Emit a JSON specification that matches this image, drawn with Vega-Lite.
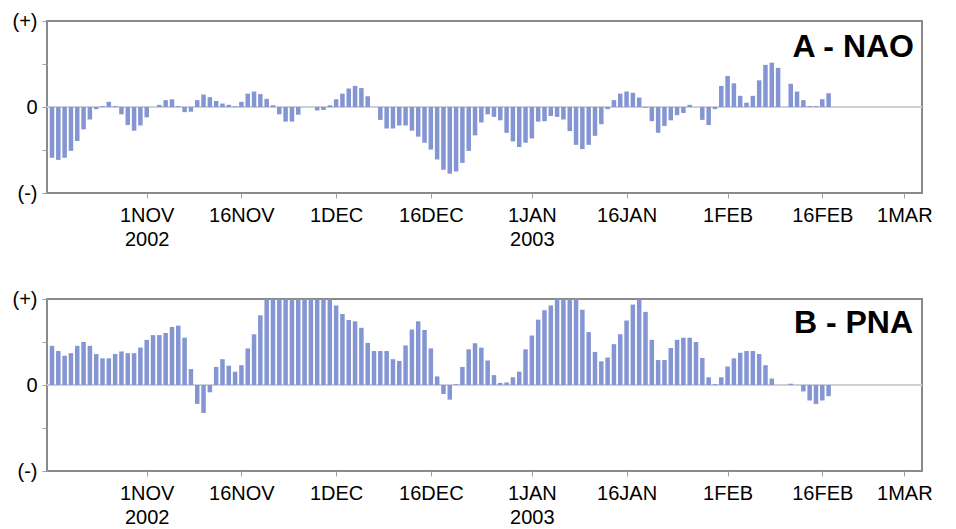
{
"$schema": "https://vega.github.io/schema/vega-lite/v6.json",
"padding": {"left": 11, "top": 10, "right": 5, "bottom": 0},
"bounds": "flush",
"spacing": 106,
"config": {
  "font": "Liberation Sans",
  "view": {"stroke": "#8a8a8a", "strokeWidth": 2},
  "axis": {"grid": false, "domain": false, "tickColor": "#a0a0a0", "tickSize": 5, "labelFontSize": 20, "labelColor": "#000000", "labelFont": "Liberation Sans", "title": null}
},
"datasets": {
"series": [
{"d":"2002-10-17","nao":-1.18,"pna":0.91},
{"d":"2002-10-18","nao":-1.23,"pna":0.79},
{"d":"2002-10-19","nao":-1.18,"pna":0.68},
{"d":"2002-10-20","nao":-1.02,"pna":0.74},
{"d":"2002-10-21","nao":-0.79,"pna":0.91},
{"d":"2002-10-22","nao":-0.52,"pna":1.0},
{"d":"2002-10-23","nao":-0.29,"pna":0.91},
{"d":"2002-10-24","nao":-0.05,"pna":0.72},
{"d":"2002-10-25","nao":0.02,"pna":0.62},
{"d":"2002-10-26","nao":0.12,"pna":0.62},
{"d":"2002-10-27","nao":0.02,"pna":0.72},
{"d":"2002-10-28","nao":-0.17,"pna":0.78},
{"d":"2002-10-29","nao":-0.42,"pna":0.74},
{"d":"2002-10-30","nao":-0.55,"pna":0.74},
{"d":"2002-10-31","nao":-0.43,"pna":0.87},
{"d":"2002-11-01","nao":-0.24,"pna":1.05},
{"d":"2002-11-02","nao":0.0,"pna":1.16},
{"d":"2002-11-03","nao":0.05,"pna":1.16},
{"d":"2002-11-04","nao":0.16,"pna":1.21},
{"d":"2002-11-05","nao":0.18,"pna":1.35},
{"d":"2002-11-06","nao":0.02,"pna":1.38},
{"d":"2002-11-07","nao":-0.12,"pna":1.1},
{"d":"2002-11-08","nao":-0.11,"pna":0.37},
{"d":"2002-11-09","nao":0.16,"pna":-0.44},
{"d":"2002-11-10","nao":0.29,"pna":-0.65},
{"d":"2002-11-11","nao":0.23,"pna":-0.17},
{"d":"2002-11-12","nao":0.14,"pna":0.42},
{"d":"2002-11-13","nao":0.08,"pna":0.6},
{"d":"2002-11-14","nao":0.05,"pna":0.45},
{"d":"2002-11-15","nao":0.02,"pna":0.31},
{"d":"2002-11-16","nao":0.12,"pna":0.46},
{"d":"2002-11-17","nao":0.31,"pna":0.85},
{"d":"2002-11-18","nao":0.36,"pna":1.18},
{"d":"2002-11-19","nao":0.3,"pna":1.62},
{"d":"2002-11-20","nao":0.19,"pna":2.0},
{"d":"2002-11-21","nao":0.04,"pna":2.0},
{"d":"2002-11-22","nao":-0.17,"pna":2.0},
{"d":"2002-11-23","nao":-0.34,"pna":2.0},
{"d":"2002-11-24","nao":-0.34,"pna":2.0},
{"d":"2002-11-25","nao":-0.18,"pna":2.0},
{"d":"2002-11-26","nao":0.0,"pna":2.0},
{"d":"2002-11-27","nao":0.0,"pna":2.0},
{"d":"2002-11-28","nao":-0.08,"pna":2.0},
{"d":"2002-11-29","nao":-0.07,"pna":2.0},
{"d":"2002-11-30","nao":0.04,"pna":2.0},
{"d":"2002-12-01","nao":0.18,"pna":1.85},
{"d":"2002-12-02","nao":0.31,"pna":1.65},
{"d":"2002-12-03","nao":0.43,"pna":1.51},
{"d":"2002-12-04","nao":0.49,"pna":1.48},
{"d":"2002-12-05","nao":0.44,"pna":1.33},
{"d":"2002-12-06","nao":0.25,"pna":0.98},
{"d":"2002-12-07","nao":0.0,"pna":0.79},
{"d":"2002-12-08","nao":-0.3,"pna":0.79},
{"d":"2002-12-09","nao":-0.5,"pna":0.79},
{"d":"2002-12-10","nao":-0.5,"pna":0.6},
{"d":"2002-12-11","nao":-0.43,"pna":0.56},
{"d":"2002-12-12","nao":-0.43,"pna":0.92},
{"d":"2002-12-13","nao":-0.55,"pna":1.29},
{"d":"2002-12-14","nao":-0.69,"pna":1.48},
{"d":"2002-12-15","nao":-0.83,"pna":1.28},
{"d":"2002-12-16","nao":-0.99,"pna":0.85},
{"d":"2002-12-17","nao":-1.22,"pna":0.2},
{"d":"2002-12-18","nao":-1.46,"pna":-0.21},
{"d":"2002-12-19","nao":-1.55,"pna":-0.34},
{"d":"2002-12-20","nao":-1.5,"pna":0.02},
{"d":"2002-12-21","nao":-1.3,"pna":0.42},
{"d":"2002-12-22","nao":-1.02,"pna":0.83},
{"d":"2002-12-23","nao":-0.66,"pna":0.97},
{"d":"2002-12-24","nao":-0.36,"pna":0.87},
{"d":"2002-12-25","nao":-0.17,"pna":0.57},
{"d":"2002-12-26","nao":-0.23,"pna":0.23},
{"d":"2002-12-27","nao":-0.31,"pna":0.05},
{"d":"2002-12-28","nao":-0.6,"pna":0.06},
{"d":"2002-12-29","nao":-0.8,"pna":0.18},
{"d":"2002-12-30","nao":-0.93,"pna":0.31},
{"d":"2002-12-31","nao":-0.83,"pna":0.83},
{"d":"2003-01-01","nao":-0.73,"pna":1.15},
{"d":"2003-01-02","nao":-0.34,"pna":1.52},
{"d":"2003-01-03","nao":-0.33,"pna":1.74},
{"d":"2003-01-04","nao":-0.21,"pna":1.85},
{"d":"2003-01-05","nao":-0.23,"pna":2.0},
{"d":"2003-01-06","nao":-0.29,"pna":2.0},
{"d":"2003-01-07","nao":-0.56,"pna":2.0},
{"d":"2003-01-08","nao":-0.88,"pna":2.0},
{"d":"2003-01-09","nao":-0.98,"pna":1.75},
{"d":"2003-01-10","nao":-0.88,"pna":1.23},
{"d":"2003-01-11","nao":-0.67,"pna":0.77},
{"d":"2003-01-12","nao":-0.4,"pna":0.55},
{"d":"2003-01-13","nao":-0.05,"pna":0.64},
{"d":"2003-01-14","nao":0.16,"pna":0.95},
{"d":"2003-01-15","nao":0.31,"pna":1.18},
{"d":"2003-01-16","nao":0.36,"pna":1.5},
{"d":"2003-01-17","nao":0.33,"pna":1.87},
{"d":"2003-01-18","nao":0.22,"pna":2.0},
{"d":"2003-01-19","nao":-0.02,"pna":1.7},
{"d":"2003-01-20","nao":-0.33,"pna":1.05},
{"d":"2003-01-21","nao":-0.6,"pna":0.58},
{"d":"2003-01-22","nao":-0.44,"pna":0.58},
{"d":"2003-01-23","nao":-0.31,"pna":0.86},
{"d":"2003-01-24","nao":-0.19,"pna":1.05},
{"d":"2003-01-25","nao":-0.14,"pna":1.1},
{"d":"2003-01-26","nao":0.05,"pna":1.1},
{"d":"2003-01-27","nao":0.0,"pna":1.0},
{"d":"2003-01-28","nao":-0.3,"pna":0.63},
{"d":"2003-01-29","nao":-0.42,"pna":0.18},
{"d":"2003-01-30","nao":-0.05,"pna":0.02},
{"d":"2003-01-31","nao":0.49,"pna":0.18},
{"d":"2003-02-01","nao":0.72,"pna":0.43},
{"d":"2003-02-02","nao":0.55,"pna":0.62},
{"d":"2003-02-03","nao":0.26,"pna":0.75},
{"d":"2003-02-04","nao":0.1,"pna":0.79},
{"d":"2003-02-05","nao":0.26,"pna":0.79},
{"d":"2003-02-06","nao":0.62,"pna":0.72},
{"d":"2003-02-07","nao":0.98,"pna":0.46},
{"d":"2003-02-08","nao":1.03,"pna":0.15},
{"d":"2003-02-09","nao":0.91,"pna":0.0},
{"d":"2003-02-10","nao":0.0,"pna":0.0},
{"d":"2003-02-11","nao":0.54,"pna":0.03},
{"d":"2003-02-12","nao":0.36,"pna":0.0},
{"d":"2003-02-13","nao":0.16,"pna":-0.15},
{"d":"2003-02-14","nao":0.02,"pna":-0.36},
{"d":"2003-02-15","nao":0.02,"pna":-0.44},
{"d":"2003-02-16","nao":0.18,"pna":-0.36},
{"d":"2003-02-17","nao":0.32,"pna":-0.26}
],
"labels": [
{"panel": "A", "label": "A - NAO", "d": "2003-03-03", "v": 2},
{"panel": "B", "label": "B - PNA", "d": "2003-03-03", "v": 2}
]
},
"vconcat": [
{
  "width": 875, "height": 172,
  "layer": [
    {"data": {"name": "series"},
     "mark": {"type": "rule", "color": "#cdd0d8", "strokeWidth": 2},
     "encoding": {"y": {"datum": 0, "type": "quantitative"}}},
    {"data": {"name": "series"},
     "mark": {"type": "bar", "size": 4.5, "color": "#8395d2"},
     "encoding": {
       "x": {"field": "d", "type": "temporal",
         "scale": {"type": "utc", "domain": [{"year": 2002, "month": 10, "date": 17, "utc": true}, {"year": 2003, "month": 3, "date": 3, "utc": true}]},
         "axis": {"values": [{"year": 2002, "month": 11, "date": 1, "utc": true}, {"year": 2002, "month": 11, "date": 16, "utc": true}, {"year": 2002, "month": 12, "date": 1, "utc": true}, {"year": 2002, "month": 12, "date": 16, "utc": true}, {"year": 2003, "month": 1, "date": 1, "utc": true}, {"year": 2003, "month": 1, "date": 16, "utc": true}, {"year": 2003, "month": 2, "date": 1, "utc": true}, {"year": 2003, "month": 2, "date": 16, "utc": true}, {"year": 2003, "month": 3, "date": 1, "utc": true}],
           "labelExpr": "(utcdate(datum.value)==1 && (utcmonth(datum.value)==10 || utcmonth(datum.value)==0)) ? [upper(utcFormat(datum.value,'%-d%b')), utcFormat(datum.value,'%Y')] : upper(utcFormat(datum.value,'%-d%b'))",
           "labelLineHeight": 24, "labelPadding": 7, "labelOverlap": false, "labelFlush": false}},
       "y": {"field": "nao", "type": "quantitative",
         "scale": {"domain": [-2, 2], "nice": false},
         "axis": {"values": [-2, -1, 0, 1, 2], "labelPadding": 5,
           "labelExpr": "datum.value==2 ? '(+)' : datum.value==0 ? '0' : datum.value==-2 ? '(-)' : ''"}}
     }},
    {"data": {"name": "labels"},
     "transform": [{"filter": "datum.panel == 'A'"}],
     "mark": {"type": "text", "align": "right", "baseline": "alphabetic", "dx": -3, "dy": 36, "fontSize": 32, "fontWeight": "bold", "font": "Liberation Sans", "color": "#000000"},
     "encoding": {
       "x": {"field": "d", "type": "temporal"},
       "y": {"field": "v", "type": "quantitative"},
       "text": {"field": "label"}}}
  ]
},
{
  "width": 875, "height": 172,
  "layer": [
    {"data": {"name": "series"},
     "mark": {"type": "rule", "color": "#cdd0d8", "strokeWidth": 2},
     "encoding": {"y": {"datum": 0, "type": "quantitative"}}},
    {"data": {"name": "series"},
     "mark": {"type": "bar", "size": 4.5, "color": "#8395d2"},
     "encoding": {
       "x": {"field": "d", "type": "temporal",
         "scale": {"type": "utc", "domain": [{"year": 2002, "month": 10, "date": 17, "utc": true}, {"year": 2003, "month": 3, "date": 3, "utc": true}]},
         "axis": {"values": [{"year": 2002, "month": 11, "date": 1, "utc": true}, {"year": 2002, "month": 11, "date": 16, "utc": true}, {"year": 2002, "month": 12, "date": 1, "utc": true}, {"year": 2002, "month": 12, "date": 16, "utc": true}, {"year": 2003, "month": 1, "date": 1, "utc": true}, {"year": 2003, "month": 1, "date": 16, "utc": true}, {"year": 2003, "month": 2, "date": 1, "utc": true}, {"year": 2003, "month": 2, "date": 16, "utc": true}, {"year": 2003, "month": 3, "date": 1, "utc": true}],
           "labelExpr": "(utcdate(datum.value)==1 && (utcmonth(datum.value)==10 || utcmonth(datum.value)==0)) ? [upper(utcFormat(datum.value,'%-d%b')), utcFormat(datum.value,'%Y')] : upper(utcFormat(datum.value,'%-d%b'))",
           "labelLineHeight": 24, "labelPadding": 7, "labelOverlap": false, "labelFlush": false}},
       "y": {"field": "pna", "type": "quantitative",
         "scale": {"domain": [-2, 2], "nice": false},
         "axis": {"values": [-2, -1, 0, 1, 2], "labelPadding": 5,
           "labelExpr": "datum.value==2 ? '(+)' : datum.value==0 ? '0' : datum.value==-2 ? '(-)' : ''"}}
     }},
    {"data": {"name": "labels"},
     "transform": [{"filter": "datum.panel == 'B'"}],
     "mark": {"type": "text", "align": "right", "baseline": "alphabetic", "dx": -4, "dy": 34, "fontSize": 32, "fontWeight": "bold", "font": "Liberation Sans", "color": "#000000"},
     "encoding": {
       "x": {"field": "d", "type": "temporal"},
       "y": {"field": "v", "type": "quantitative"},
       "text": {"field": "label"}}}
  ]
}
]
}
